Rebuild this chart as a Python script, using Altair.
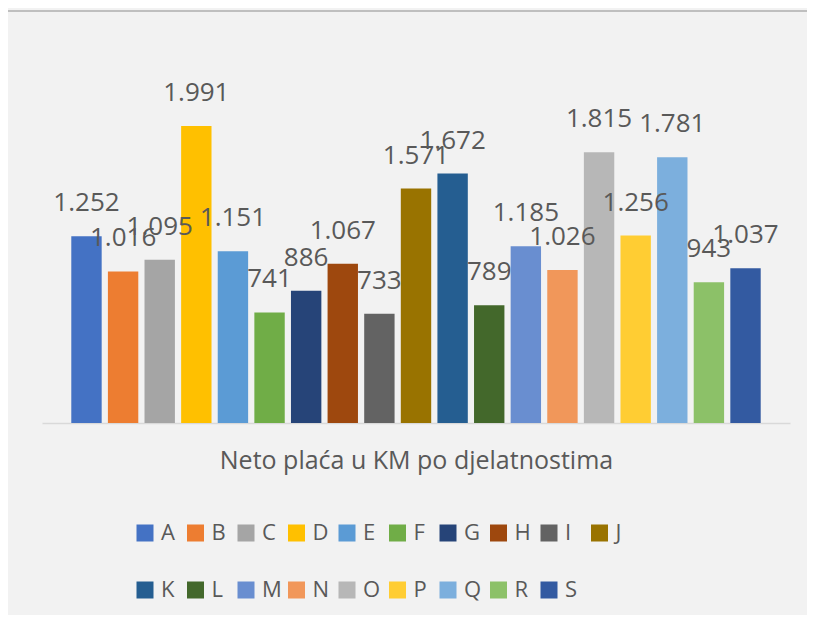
import altair as alt
import pandas as pd

categories = ["A", "B", "C", "D", "E", "F", "G", "H", "I", "J",
              "K", "L", "M", "N", "O", "P", "Q", "R", "S"]
values = [1252, 1016, 1095, 1991, 1151, 741, 886, 1067, 733, 1571,
          1672, 789, 1185, 1026, 1815, 1256, 1781, 943, 1037]
labels = ["1.252", "1.016", "1.095", "1.991", "1.151", "741", "886", "1.067", "733", "1.571",
          "1.672", "789", "1.185", "1.026", "1.815", "1.256", "1.781", "943", "1.037"]
colors = ["#4472C4", "#ED7D31", "#A5A5A5", "#FFC000", "#5B9BD5", "#70AD47", "#264478",
          "#9E480E", "#636363", "#997300", "#255E91", "#43682B", "#698ED0", "#F1975A",
          "#B7B7B7", "#FFCD33", "#7CAFDD", "#8CC168", "#335AA1"]

df = pd.DataFrame({"kat": categories, "vrijednost": values, "oznaka": labels})

FONT = "Open Sans"
TXT = "#595959"

x_enc = alt.X("kat:N", sort=categories,
              scale=alt.Scale(paddingInner=0.17, paddingOuter=0.8),
              axis=alt.Axis(title="Neto plaća u KM po djelatnostima", labels=False, ticks=False,
                            domainColor="#D9D9D9", domainWidth=1.5,
                            titleFont=FONT, titleFontSize=25, titleFontWeight="normal",
                            titleColor=TXT, titlePadding=25))
y_enc = alt.Y("vrijednost:Q", scale=alt.Scale(domain=[0, 2500], nice=False), axis=None)

bars = alt.Chart(df).mark_bar().encode(
    x=x_enc,
    y=y_enc,
    color=alt.Color("kat:N", sort=categories,
                    scale=alt.Scale(domain=categories, range=colors),
                    legend=alt.Legend(title=None, orient="none", legendX=92, legendY=472,
                                      direction="horizontal", columns=10, gridAlign="all",
                                      symbolType="square", symbolSize=289, symbolStrokeWidth=0,
                                      labelFont=FONT, labelFontSize=22, labelColor=TXT,
                                      labelOffset=5, columnPadding=3.5, rowPadding=35,
                                      padding=0))
)

text = alt.Chart(df).mark_text(font=FONT, fontSize=26, color=TXT, baseline="middle",
                               align="center", dy=-33).encode(
    x=alt.X("kat:N", sort=categories),
    y=alt.Y("vrijednost:Q"),
    text="oznaka:N"
)

border = alt.Chart(df).mark_rule(color="#BFBFBF", strokeWidth=2).encode(
    x=alt.value(-34), x2=alt.value(765), y=alt.value(-39)
)

chart = alt.layer(bars, text, border).properties(
    width=748, height=373,
    autosize=alt.AutoSizeParams(type="none"),
    padding={"left": 34, "top": 42, "right": 17, "bottom": 192},
    background="#F2F2F2"
).configure_view(stroke=None)

chart.save("out.html", embed_options={"renderer": "svg", "actions": False})
